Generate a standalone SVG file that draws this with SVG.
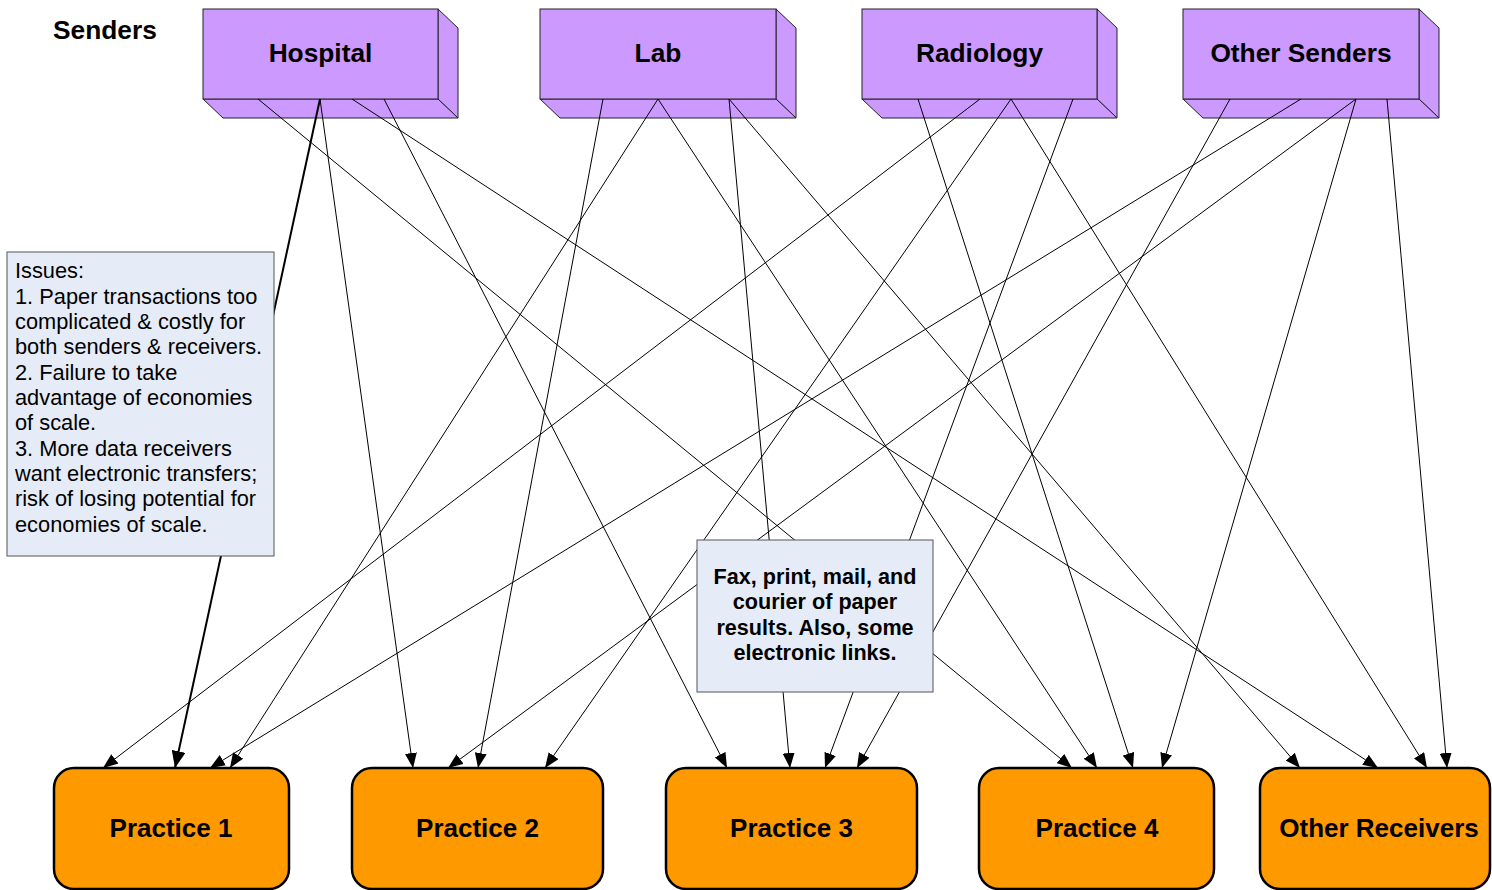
<svg xmlns="http://www.w3.org/2000/svg" width="1492" height="890" viewBox="0 0 1492 890">
<defs>
<style>
.sender{fill:#CC99FF;stroke:#222;stroke-width:1}
.recv{fill:#FF9900;stroke:#000;stroke-width:2.5}
.note{fill:#E6ECF7;stroke:#555;stroke-width:1}
.ttl{font-family:"Liberation Sans",Arial,sans-serif;font-weight:bold;font-size:26.3px;fill:#000;text-anchor:middle}
.rttl{font-family:"Liberation Sans",Arial,sans-serif;font-weight:bold;font-size:26px;fill:#000;text-anchor:middle}
.conn line{stroke:#000;stroke-width:1;fill:none;marker-end:url(#ah)}
.conn line.thick{stroke-width:2;marker-end:url(#ahb)}
.ntxt{font-family:"Liberation Sans",Arial,sans-serif;font-size:21.8px;fill:#000}
.ftxt{font-family:"Liberation Sans",Arial,sans-serif;font-size:21.6px;font-weight:bold;fill:#000;text-anchor:middle}
</style>
<marker id="ah" markerUnits="userSpaceOnUse" markerWidth="16" markerHeight="12" refX="15" refY="6" orient="auto">
<path d="M0,0 L15,6 L0,12 Z" fill="#000"/>
</marker>
<marker id="ahb" markerUnits="userSpaceOnUse" markerWidth="18" markerHeight="14" refX="17" refY="7" orient="auto">
<path d="M0,0 L17,7 L0,14 Z" fill="#000"/>
</marker>
</defs>
<rect width="1492" height="890" fill="#fff"/>
<text x="53" y="39" font-family="Liberation Sans, Arial, sans-serif" font-weight="bold" font-size="26.3" fill="#000">Senders</text>

<g id="hospital">
<polygon class="sender" points="438,9 458,28 458,118 438,99"/>
<polygon class="sender" points="203,99 438,99 458,118 223,118"/>
<rect class="sender" x="203" y="9" width="235" height="90"/>
<text class="ttl" x="320.5" y="62">Hospital</text>
</g>
<g id="lab">
<polygon class="sender" points="776,9 796,28 796,118 776,99"/>
<polygon class="sender" points="540,99 776,99 796,118 560,118"/>
<rect class="sender" x="540" y="9" width="236" height="90"/>
<text class="ttl" x="658" y="62">Lab</text>
</g>
<g id="radiology">
<polygon class="sender" points="1097,9 1117,28 1117,118 1097,99"/>
<polygon class="sender" points="862,99 1097,99 1117,118 882,118"/>
<rect class="sender" x="862" y="9" width="235" height="90"/>
<text class="ttl" x="979.5" y="62">Radiology</text>
</g>
<g id="other-senders">
<polygon class="sender" points="1419,9 1439,28 1439,118 1419,99"/>
<polygon class="sender" points="1183,99 1419,99 1439,118 1203,118"/>
<rect class="sender" x="1183" y="9" width="236" height="90"/>
<text class="ttl" x="1301" y="62">Other Senders</text>
</g>

<g id="connectors" class="conn">
<line class="thick" x1="320" y1="99" x2="175" y2="768"/>
<line x1="320" y1="99" x2="413" y2="768"/>
<line x1="384" y1="99" x2="727" y2="768"/>
<line x1="258" y1="99" x2="1072" y2="768"/>
<line x1="352" y1="99" x2="1378" y2="768"/>
<line x1="658" y1="99" x2="230" y2="768"/>
<line x1="603" y1="99" x2="478" y2="768"/>
<line x1="729" y1="99" x2="790" y2="768"/>
<line x1="658" y1="99" x2="1097" y2="768"/>
<line x1="729" y1="99" x2="1300" y2="768"/>
<line x1="980" y1="99" x2="103" y2="768"/>
<line x1="1011" y1="99" x2="545" y2="768"/>
<line x1="1073" y1="99" x2="825" y2="768"/>
<line x1="918" y1="99" x2="1133" y2="768"/>
<line x1="1011" y1="99" x2="1427" y2="768"/>
<line x1="1301" y1="99" x2="210" y2="768"/>
<line x1="1356" y1="99" x2="448" y2="768"/>
<line x1="1230" y1="99" x2="857" y2="768"/>
<line x1="1356" y1="99" x2="1162" y2="768"/>
<line x1="1387" y1="99" x2="1447" y2="768"/>
</g>

<g id="issues">
<rect class="note" x="7" y="252" width="267" height="304"/>
<text class="ntxt" x="15" y="278">Issues:</text>
<text class="ntxt" x="15" y="304">1. Paper transactions too</text>
<text class="ntxt" x="15" y="329">complicated &amp; costly for</text>
<text class="ntxt" x="15" y="354">both senders &amp; receivers.</text>
<text class="ntxt" x="15" y="380">2. Failure to take</text>
<text class="ntxt" x="15" y="405">advantage of economies</text>
<text class="ntxt" x="15" y="430">of scale.</text>
<text class="ntxt" x="15" y="456">3. More data receivers</text>
<text class="ntxt" x="15" y="481">want electronic transfers;</text>
<text class="ntxt" x="15" y="506">risk of losing potential for</text>
<text class="ntxt" x="15" y="532">economies of scale.</text>
</g>

<g id="transport">
<rect class="note" x="697" y="540" width="236" height="152"/>
<text class="ftxt" x="815" y="584">Fax, print, mail, and</text>
<text class="ftxt" x="815" y="609">courier of paper</text>
<text class="ftxt" x="815" y="635">results. Also, some</text>
<text class="ftxt" x="815" y="660">electronic links.</text>
</g>

<g id="practice1">
<rect class="recv" x="54" y="768" width="235" height="121" rx="20"/>
<text class="rttl" x="171" y="837">Practice 1</text>
</g>
<g id="practice2">
<rect class="recv" x="352" y="768" width="251" height="121" rx="20"/>
<text class="rttl" x="477.5" y="837">Practice 2</text>
</g>
<g id="practice3">
<rect class="recv" x="666" y="768" width="251" height="121" rx="20"/>
<text class="rttl" x="791.5" y="837">Practice 3</text>
</g>
<g id="practice4">
<rect class="recv" x="979" y="768" width="235" height="121" rx="20"/>
<text class="rttl" x="1097" y="837">Practice 4</text>
</g>
<g id="other-receivers">
<rect class="recv" x="1260" y="768" width="230" height="121" rx="20"/>
<text class="rttl" x="1379" y="837">Other Receivers</text>
</g>
</svg>
